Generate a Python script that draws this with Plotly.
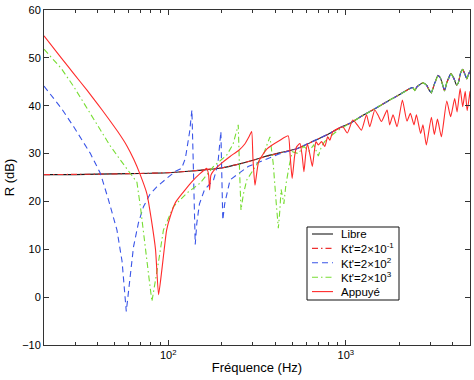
import plotly.graph_objects as go

# ---------------- data ----------------
libre_freq = [20, 30, 40, 60, 80, 100, 130, 160, 200, 250, 300, 350, 430, 530, 650,
              800, 925, 1050, 1250, 1500, 1766, 2000, 2290, 2380, 2444, 2520, 2718,
              2850, 2950, 3030, 3150, 3300, 3400, 3500, 3596, 3700, 3900, 4050, 4200,
              4300, 4420, 4550, 4680, 4800, 4900, 5000]
libre_db = [25.6, 25.6, 25.7, 25.8, 25.9, 26.0, 26.3, 26.6, 27.0, 27.8, 28.6, 29.4, 30.2,
            31.0, 32.5, 34.1, 35.4, 36.3, 38.0, 39.6, 41.2, 42.3, 43.6, 43.8, 43.2, 44.0,
            44.8, 44.3, 43.2, 42.7, 44.5, 46.3, 45.9, 44.5, 43.1, 44.8, 46.7, 45.8, 44.3,
            44.8, 46.8, 47.6, 46.6, 45.6, 46.5, 47.3]

# Kt'=2x10^-1 lies on top of the free curve
kt1_freq = list(libre_freq)
kt1_db = list(libre_db)

kt2_low_freq = [20, 25, 29.4, 33, 36.5, 41.5, 46, 51.5, 55, 58.1, 61, 63.8, 68, 72.6, 79,
                86, 98, 110, 119, 125, 132, 136, 138, 140, 142, 145, 150, 160, 180, 190,
                196, 198, 200, 203, 208, 223, 282, 358, 420]
kt2_low_db = [44.1, 39.5, 35.6, 32.5, 30.0, 25.9, 20.5, 14.0, 7.5, -3.0, 4.0, 10.5, 15.5,
              18.9, 21.5, 23.0, 24.8, 26.3, 26.9, 29.0, 34.5, 39.1, 30.0, 20.0, 11.0, 15.5,
              19.5, 22.4, 24.5, 27.5, 32.0, 34.6, 27.0, 16.1, 19.5, 24.5, 27.3, 28.8, 29.9]

kt3_low_freq = [20, 25, 29.4, 35, 41.5, 47, 53.7, 58, 62.5, 66.7, 70, 72.6, 75, 78, 81,
                84, 88, 94, 100, 107, 127, 151, 180, 214, 232, 243, 248, 252, 257, 265,
                277, 314, 345, 374, 390, 405, 417, 425, 432, 440, 448, 460, 480, 500, 540,
                580, 620, 660, 700, 730, 760, 800, 850, 900]
kt3_low_db = [51.8, 47.8, 44.0, 39.5, 34.9, 31.7, 28.7, 27.0, 25.2, 24.0, 18.5, 14.0, 9.5,
              4.0, -0.9, 3.0, 7.1, 14.0, 16.5, 18.9, 21.7, 23.8, 27.3, 29.7, 32.0, 34.5,
              36.0, 27.0, 18.2, 21.5, 24.5, 27.6, 30.0, 33.5, 28.0, 20.0, 14.4, 18.0, 22.5,
              21.0, 19.5, 23.5, 27.5, 30.4, 30.0, 31.5, 30.5, 31.8, 29.5, 31.5, 32.5, 33.3,
              34.0, 34.8]

appuye_freq = [20, 25, 29.4, 35, 40, 45.3, 52, 58.6, 64, 69.6, 75.9, 80.5, 84.9, 88.3,
               92, 95, 98, 103, 110, 122, 135, 151, 165, 169, 171, 174, 180, 200, 223,
               250, 270, 285, 295, 300, 308, 323, 360, 426, 474, 485, 492, 499, 515, 528,
               552, 568, 581, 595, 608, 630, 648, 665, 679, 700, 730, 762, 790, 813, 845,
               900, 962, 1020, 1094, 1160, 1225, 1307, 1364, 1455, 1520, 1587, 1707, 1766,
               1844, 1943, 2082, 2208, 2309, 2420, 2497, 2637, 2718, 2840, 3030, 3150, 3280,
               3450, 3700, 3890, 4100, 4230, 4400, 4550, 4700, 4820, 5000]
appuye_db = [54.6, 50.0, 46.7, 43.2, 40.4, 37.7, 34.6, 31.6, 28.8, 25.6, 21.6, 16.1, 9.9,
             0.5, 5.5, 10.0, 14.0, 17.0, 19.8, 22.0, 24.0, 25.8, 26.9, 25.5,
             22.4, 25.5, 26.4, 28.0, 29.4, 30.7, 32.0, 33.5, 34.6, 29.0, 23.4, 28.3, 31.0,
             32.8, 33.7, 30.0, 27.0, 24.8, 29.5, 31.4, 32.1, 29.5, 26.2, 30.0, 32.1, 29.5,
             27.3, 30.5, 32.5, 31.8, 32.5, 31.5, 33.5, 32.8, 34.6, 35.2, 35.6, 34.3, 37.0,
             36.0, 34.9, 38.1, 35.6, 39.1, 38.0, 36.7, 39.1, 36.0, 38.1, 35.6, 41.2, 36.8,
             38.4, 36.0, 38.1, 34.2, 36.0, 31.8, 37.6, 34.0, 37.2, 33.5, 41.0, 37.7, 41.5,
             38.7, 43.6, 39.8, 43.0, 39.0, 43.0]

series_names = ["Libre", "Kt'=2×10<sup>-1</sup>", "Kt'=2×10<sup>2</sup>",
                "Kt'=2×10<sup>3</sup>", "Appuyé"]
x_tick_vals = [100, 1000]
x_tick_text = ["10<sup>2</sup>", "10<sup>3</sup>"]
y_tick_vals = [-10, 0, 10, 20, 30, 40, 50, 60]

# high-frequency parts coincide with the free curve
kt2_freq = kt2_low_freq + [f for f in libre_freq if f > 480]
kt2_db = kt2_low_db + [d for f, d in zip(libre_freq, libre_db) if f > 480]
kt3_freq = kt3_low_freq + [f for f in libre_freq if f > 950]
kt3_db = kt3_low_db + [d for f, d in zip(libre_freq, libre_db) if f > 950]

# ---------------- styles ----------------
styles = [
    dict(color="#1a1a1a", dash="solid", shape="spline"),
    dict(color="#ee3030", dash="6px,3px,1.5px,3px", shape="linear"),
    dict(color="#3a55e8", dash="6px,4px", shape="linear"),
    dict(color="#77dd33", dash="6px,3px,1.5px,3px", shape="linear"),
    dict(color="#ff2a2a", dash="solid", shape="spline"),
]
xs = [libre_freq, kt1_freq, kt2_freq, kt3_freq, appuye_freq]
ys = [libre_db, kt1_db, kt2_db, kt3_db, appuye_db]

FONT = "Liberation Sans, Arial, Helvetica, sans-serif"
fig = go.Figure()
for name, x, y, st in zip(series_names, xs, ys, styles):
    fig.add_trace(go.Scatter(
        x=x, y=y, mode="lines", name=name, showlegend=False, hoverinfo="skip",
        line=dict(color=st["color"], dash=st["dash"], width=1.1,
                  shape=st["shape"], smoothing=0.5 if st["shape"] == "spline" else None),
    ))

# ---------------- custom legend (MATLAB style) ----------------
L, T, B, R = 44, 10, 35, 4
W, H = 474, 380
pw, ph = W - L - R, H - T - B


def px2paper_x(px):
    return (px - L) / pw


def px2paper_y(py):
    return (H - B - py) / ph


fig.add_shape(type="rect", xref="paper", yref="paper",
              x0=px2paper_x(307), x1=px2paper_x(399),
              y0=px2paper_y(300), y1=px2paper_y(227),
              line=dict(color="#111", width=1), fillcolor="white", layer="above")
for i, (name, st) in enumerate(zip(series_names, styles)):
    yc = px2paper_y(234 + 14.4 * i)
    fig.add_shape(type="line", xref="paper", yref="paper",
                  x0=px2paper_x(312), x1=px2paper_x(333), y0=yc, y1=yc,
                  line=dict(color=st["color"], dash=st["dash"], width=1.1), layer="above")
    fig.add_annotation(xref="paper", yref="paper", x=px2paper_x(339), y=yc,
                       xanchor="left", yanchor="middle", text=name, showarrow=False,
                       font=dict(family=FONT, size=11.5, color="black"))

axis_common = dict(showline=True, linecolor="#333", linewidth=1, mirror="ticks",
                   ticks="inside", ticklen=5, tickcolor="#333", showgrid=False,
                   zeroline=False, tickfont=dict(family=FONT, size=11, color="black"))

fig.update_layout(
    width=W, height=H,
    margin=dict(l=L, r=R, t=T, b=B, autoexpand=False),
    paper_bgcolor="white", plot_bgcolor="white",
    font=dict(family=FONT, size=11, color="black"),
    xaxis=dict(type="log", range=[1.30103, 3.69897], tickvals=x_tick_vals,
               ticktext=x_tick_text, automargin=False,
               minor=dict(tickvals=[20, 30, 40, 50, 60, 70, 80, 90, 200, 300, 400, 500,
                                    600, 700, 800, 900, 2000, 3000, 4000, 5000],
                          ticks="inside", ticklen=3, tickcolor="#333"),
               title=dict(text="Fréquence (Hz)", font=dict(family=FONT, size=13),
                          standoff=2),
               **axis_common),
    yaxis=dict(range=[-10, 60], tickvals=y_tick_vals, automargin=False,
               title=dict(text="R (dB)", font=dict(family=FONT, size=13), standoff=4),
               **axis_common),
)

fig.write_html("out.html", config={"displayModeBar": False},
               post_script="document.body.style.margin='0';document.body.style.padding='0';")
